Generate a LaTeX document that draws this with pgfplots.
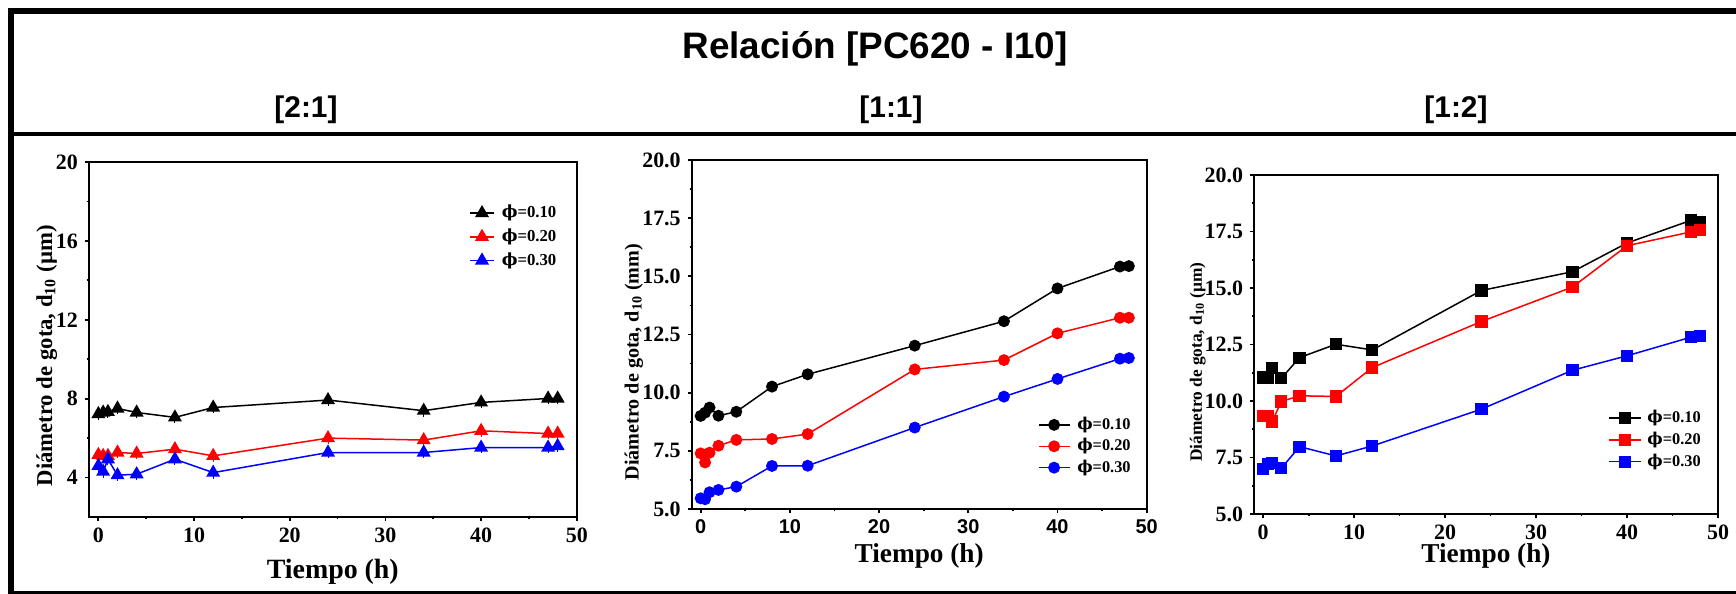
\documentclass[border=0pt]{standalone}
\usepackage{fontspec}
\setmainfont{Liberation Serif}
\setsansfont{Liberation Sans}
\newfontfamily\phifont{DejaVu Serif}
\newcommand{\fii}{{\phifont\char"03D5}}
\usepackage{pgfplots}
\pgfplotsset{compat=1.18}

\pgfplotsset{
  panel/.style={
    scale only axis, anchor=south west,
    xmin=-1, xmax=50, xtick={0,10,...,50}, minor x tick num=1,
    minor y tick num=1,
    tick align=outside, tick pos=left,
    major tick length=2bp, minor tick length=1.1bp,
    axis line style={line width=1.1bp},
    tick style={line width=0.9bp, black},
    /pgf/number format/assume math mode=true,
    legend cell align=left,
    every axis plot/.append style={line width=0.75bp},
    xlabel={Tiempo (h)},
  },
  leg/.style={
    legend image code/.code={
      \draw[mark repeat=2, mark phase=2, ##1] plot coordinates {(0bp,0bp) (#1/2,0bp) (#1,0bp)};}
  },
}

\begin{document}
\begin{tikzpicture}
\useasboundingbox (0,0) rectangle (868bp,297bp);
% frame
\draw[line width=3bp] (5.5bp,-2bp) -- (5.5bp,293bp);
\draw[line width=3bp] (4bp,291.5bp) -- (872bp,291.5bp);
\draw[line width=2bp] (5.5bp,230bp) -- (872bp,230bp);
\draw[line width=3bp] (4bp,0bp) -- (872bp,0bp);
% titles
\node[anchor=base, font=\sffamily\bfseries\fontsize{18.5}{20}\selectfont] at (437.5bp,267.5bp) {Relación [PC620 - I10]};
\node[anchor=base, font=\sffamily\bfseries\fontsize{15}{16}\selectfont] at (153bp,238bp) {[2:1]};
\node[anchor=base, font=\sffamily\bfseries\fontsize{15}{16}\selectfont] at (445.5bp,238bp) {[1:1]};
\node[anchor=base, font=\sffamily\bfseries\fontsize{15}{16}\selectfont] at (728bp,238bp) {[1:2]};

% ---- [2:1] ----
\begin{axis}[panel, leg=12bp, at={(44.4bp,38.5bp)}, width=244bp, height=177.5bp,
  ymin=2, ymax=20, ytick={4,8,...,20},
  tick label style={font=\fontsize{11}{12}\selectfont\bfseries},
  xlabel style={font=\fontsize{14}{15}\selectfont\bfseries, at={(axis description cs:0.5,-0.154)}, anchor=center},
  ylabel={Diámetro de gota, d\textsubscript{10} (µm)},
  ylabel style={font=\fontsize{11.4}{12}\selectfont\bfseries, at={(axis description cs:-0.086,0.454)}, anchor=center},
  legend style={at={(0.963,0.885)}, anchor=north east, draw=none, fill=none, inner sep=0pt,
    row sep=2bp, column sep=2.5bp, font=\fontsize{8.4}{9}\selectfont\bfseries, nodes={inner sep=1bp}},
  mark size=3.3bp,
]
\addplot[black, mark=triangle*, error bars/.cd, y dir=both, y fixed=0.3, error mark=none,
  error bar style={line width=0.5bp}] coordinates {
  (0,7.22) (0.5,7.30) (1,7.33) (2,7.50) (4,7.30) (8,7.05) (12,7.55) (24,7.93) (34,7.39) (40,7.81) (47,8.01) (48,8.01)};
\addplot[red, mark=triangle*, error bars/.cd, y dir=both, y fixed=0.3, error mark=none,
  error bar style={line width=0.5bp}] coordinates {
  (0,5.15) (0.5,5.10) (1,5.10) (2,5.27) (4,5.22) (8,5.44) (12,5.10) (24,6.00) (34,5.90) (40,6.37) (47,6.23) (48,6.23)};
\addplot[blue, mark=triangle*, error bars/.cd, y dir=both, y fixed=0.3, error mark=none,
  error bar style={line width=0.5bp}] coordinates {
  (0,4.59) (0.5,4.30) (1,4.93) (2,4.12) (4,4.17) (8,4.93) (12,4.25) (24,5.27) (34,5.27) (40,5.52) (47,5.52) (48,5.60)};
\legend{\fii=0.10, \fii=0.20, \fii=0.30}
\end{axis}

% ---- [1:1] ----
\begin{axis}[panel, leg=15.5bp, at={(345.85bp,42.5bp)}, width=227.5bp, height=174.5bp,
  ymin=5, ymax=20, ytick={5,7.5,...,20},
  yticklabel style={font=\fontsize{11}{12}\selectfont\bfseries,
    /pgf/number format/.cd, fixed, fixed zerofill, precision=1},
  xticklabel style={font=\sffamily\bfseries\fontsize{10}{11}\selectfont},
  xlabel style={font=\fontsize{13.7}{15}\selectfont\bfseries, at={(axis description cs:0.5,-0.135)}, anchor=center},
  ylabel={Diámetro de gota, d\textsubscript{10} (mm)},
  ylabel style={font=\fontsize{10.1}{11}\selectfont\bfseries, at={(axis description cs:-0.127,0.421)}, anchor=center},
  legend style={at={(0.97,0.27)}, anchor=north east, draw=none, fill=none, inner sep=0pt,
    row sep=1bp, column sep=2.5bp, font=\fontsize{8.2}{9}\selectfont\bfseries, nodes={inner sep=1bp}},
  mark size=2.6bp,
]
\addplot[black, mark=*] coordinates {
  (0,9.00) (0.5,9.14) (1,9.36) (2,9.01) (4,9.18) (8,10.26) (12,10.79) (24,12.02) (34,13.07) (40,14.48) (47,15.42) (48,15.44)};
\addplot[red, mark=*] coordinates {
  (0,7.39) (0.5,7.00) (1,7.42) (2,7.72) (4,7.97) (8,8.01) (12,8.22) (24,11.00) (34,11.40) (40,12.55) (47,13.22) (48,13.22)};
\addplot[blue, mark=*] coordinates {
  (0,5.46) (0.5,5.42) (1,5.72) (2,5.82) (4,5.96) (8,6.85) (12,6.86) (24,8.50) (34,9.83) (40,10.59) (47,11.46) (48,11.49)};
\legend{\fii=0.10, \fii=0.20, \fii=0.30}
\end{axis}

% ---- [1:2] ----
\begin{axis}[panel, leg=16bp, at={(627bp,40bp)}, width=232bp, height=169.5bp,
  ymin=5, ymax=20, ytick={5,7.5,...,20},
  tick label style={font=\fontsize{11}{12}\selectfont\bfseries},
  yticklabel style={/pgf/number format/.cd, fixed, fixed zerofill, precision=1},
  xlabel style={font=\fontsize{13.7}{15}\selectfont\bfseries, at={(axis description cs:0.5,-0.124)}, anchor=center},
  ylabel={Diámetro de gota, d\textsubscript{10} (µm)},
  ylabel style={font=\fontsize{8.7}{9}\selectfont\bfseries, at={(axis description cs:-0.121,0.448)}, anchor=center},
  legend style={at={(0.968,0.313)}, anchor=north east, draw=none, fill=none, inner sep=0pt,
    row sep=1.2bp, column sep=2bp, font=\fontsize{8.2}{9}\selectfont\bfseries, nodes={inner sep=1bp}},
  mark size=2.67bp,
]
\addplot[black, mark=square*] coordinates {
  (0,11.04) (0.5,11.00) (1,11.45) (2,11.00) (4,11.92) (8,12.51) (12,12.26) (24,14.89) (34,15.72) (40,16.99) (47,17.99) (48,17.93)};
\addplot[red, mark=square*] coordinates {
  (0,9.35) (0.5,9.34) (1,9.09) (2,9.98) (4,10.23) (8,10.20) (12,11.48) (24,13.52) (34,15.04) (40,16.87) (47,17.48) (48,17.55)};
\addplot[blue, mark=square*] coordinates {
  (0,6.98) (0.5,7.20) (1,7.24) (2,7.02) (4,7.98) (8,7.57) (12,8.01) (24,9.64) (34,11.36) (40,12.00) (47,12.82) (48,12.87)};
\legend{\fii=0.10, \fii=0.20, \fii=0.30}
\end{axis}
\end{tikzpicture}
\end{document}
